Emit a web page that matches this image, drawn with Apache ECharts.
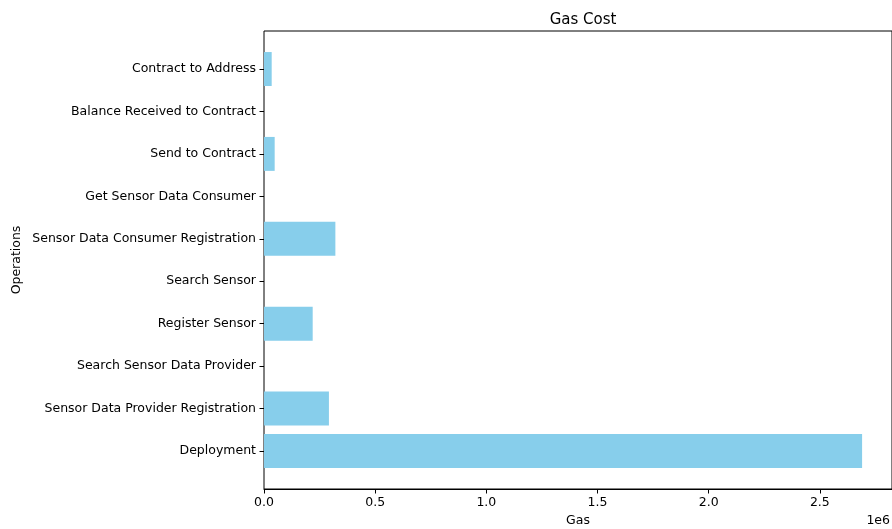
<!DOCTYPE html>
<html>
<head>
<meta charset="utf-8">
<script src="https://cdn.jsdelivr.net/npm/echarts@6/dist/echarts.min.js"></script>
<style>
  html, body { margin: 0; padding: 0; background: #fff; }
  #chart { width: 892px; height: 529px; }
</style>
</head>
<body>
<div id="chart"></div>
<script>
// Gas used by each contract operation
const operations = [
  'Deployment',
  'Sensor Data Provider Registration',
  'Search Sensor Data Provider',
  'Register Sensor',
  'Search Sensor',
  'Sensor Data Consumer Registration',
  'Get Sensor Data Consumer',
  'Send to Contract',
  'Balance Received to Contract',
  'Contract to Address'
];
const gasUsed = [2690000, 292000, 0, 219000, 0, 321000, 0, 48000, 0, 34600];
const gasTicks = [0, 500000, 1000000, 1500000, 2000000, 2500000];

const FONT = 'DejaVu Sans';
const gasMax = Math.max(...gasUsed) * 1.05;

const chart = echarts.init(document.getElementById('chart'), null, { renderer: 'canvas' });

chart.setOption({
  backgroundColor: '#ffffff',
  animation: false,
  textStyle: { fontFamily: FONT },
  title: {
    text: 'Gas Cost',
    left: 578,
    textAlign: 'center',
    top: 8,
    textStyle: { fontFamily: FONT, fontSize: 15, fontWeight: 'normal', color: '#000' }
  },
  grid: [
    // outer frame, x axis and axis titles
    {
      left: 264, right: 0, top: 31, bottom: 40,
      outerBoundsMode: 'none', containLabel: false,
      show: true, borderColor: '#000', borderWidth: 1, backgroundColor: 'transparent'
    },
    // bar bands
    {
      left: 264, right: 0, top: 47.8, bottom: 56.8,
      outerBoundsMode: 'none', containLabel: false
    }
  ],
  xAxis: [
    {
      gridIndex: 0,
      type: 'value',
      min: 0,
      max: gasMax,
      interval: gasTicks[1] - gasTicks[0],
      name: 'Gas',
      nameLocation: 'middle',
      nameGap: 25,
      nameTextStyle: { fontFamily: FONT, fontSize: 12.5, color: '#000' },
      axisLine: { show: true, lineStyle: { color: '#000', width: 1 } },
      axisTick: { show: true, length: 4.5, lineStyle: { color: '#000', width: 1 } },
      axisLabel: {
        show: true,
        margin: 7,
        fontFamily: FONT,
        fontSize: 12.5,
        color: '#000',
        showMaxLabel: false,
        formatter: v => (v / 1e6).toFixed(1)
      },
      splitLine: { show: false }
    },
    {
      gridIndex: 1,
      type: 'value',
      min: 0,
      max: gasMax,
      show: false
    }
  ],
  yAxis: [
    {
      gridIndex: 0,
      type: 'value',
      min: 0,
      max: 1,
      name: 'Operations',
      nameLocation: 'middle',
      nameGap: 241,
      nameTextStyle: { fontFamily: FONT, fontSize: 12.5, color: '#000' },
      axisLine: { show: false },
      axisTick: { show: false },
      axisLabel: { show: false },
      splitLine: { show: false }
    },
    {
      gridIndex: 1,
      type: 'category',
      data: operations,
      axisLine: { show: false },
      axisTick: { show: true, alignWithLabel: true, length: 4.5, lineStyle: { color: '#000', width: 1 } },
      axisLabel: { margin: 8, fontFamily: FONT, fontSize: 12.5, color: '#000' },
      splitLine: { show: false }
    }
  ],
  series: [
    {
      type: 'bar',
      xAxisIndex: 1,
      yAxisIndex: 1,
      data: gasUsed,
      barCategoryGap: '20%',
      itemStyle: { color: '#87CEEB' }
    }
  ],
  graphic: [
    {
      type: 'text',
      right: 2,
      top: 514,
      style: { text: '1e6', fontFamily: FONT, fontSize: 12.5, fill: '#000' }
    }
  ]
});
</script>
</body>
</html>
